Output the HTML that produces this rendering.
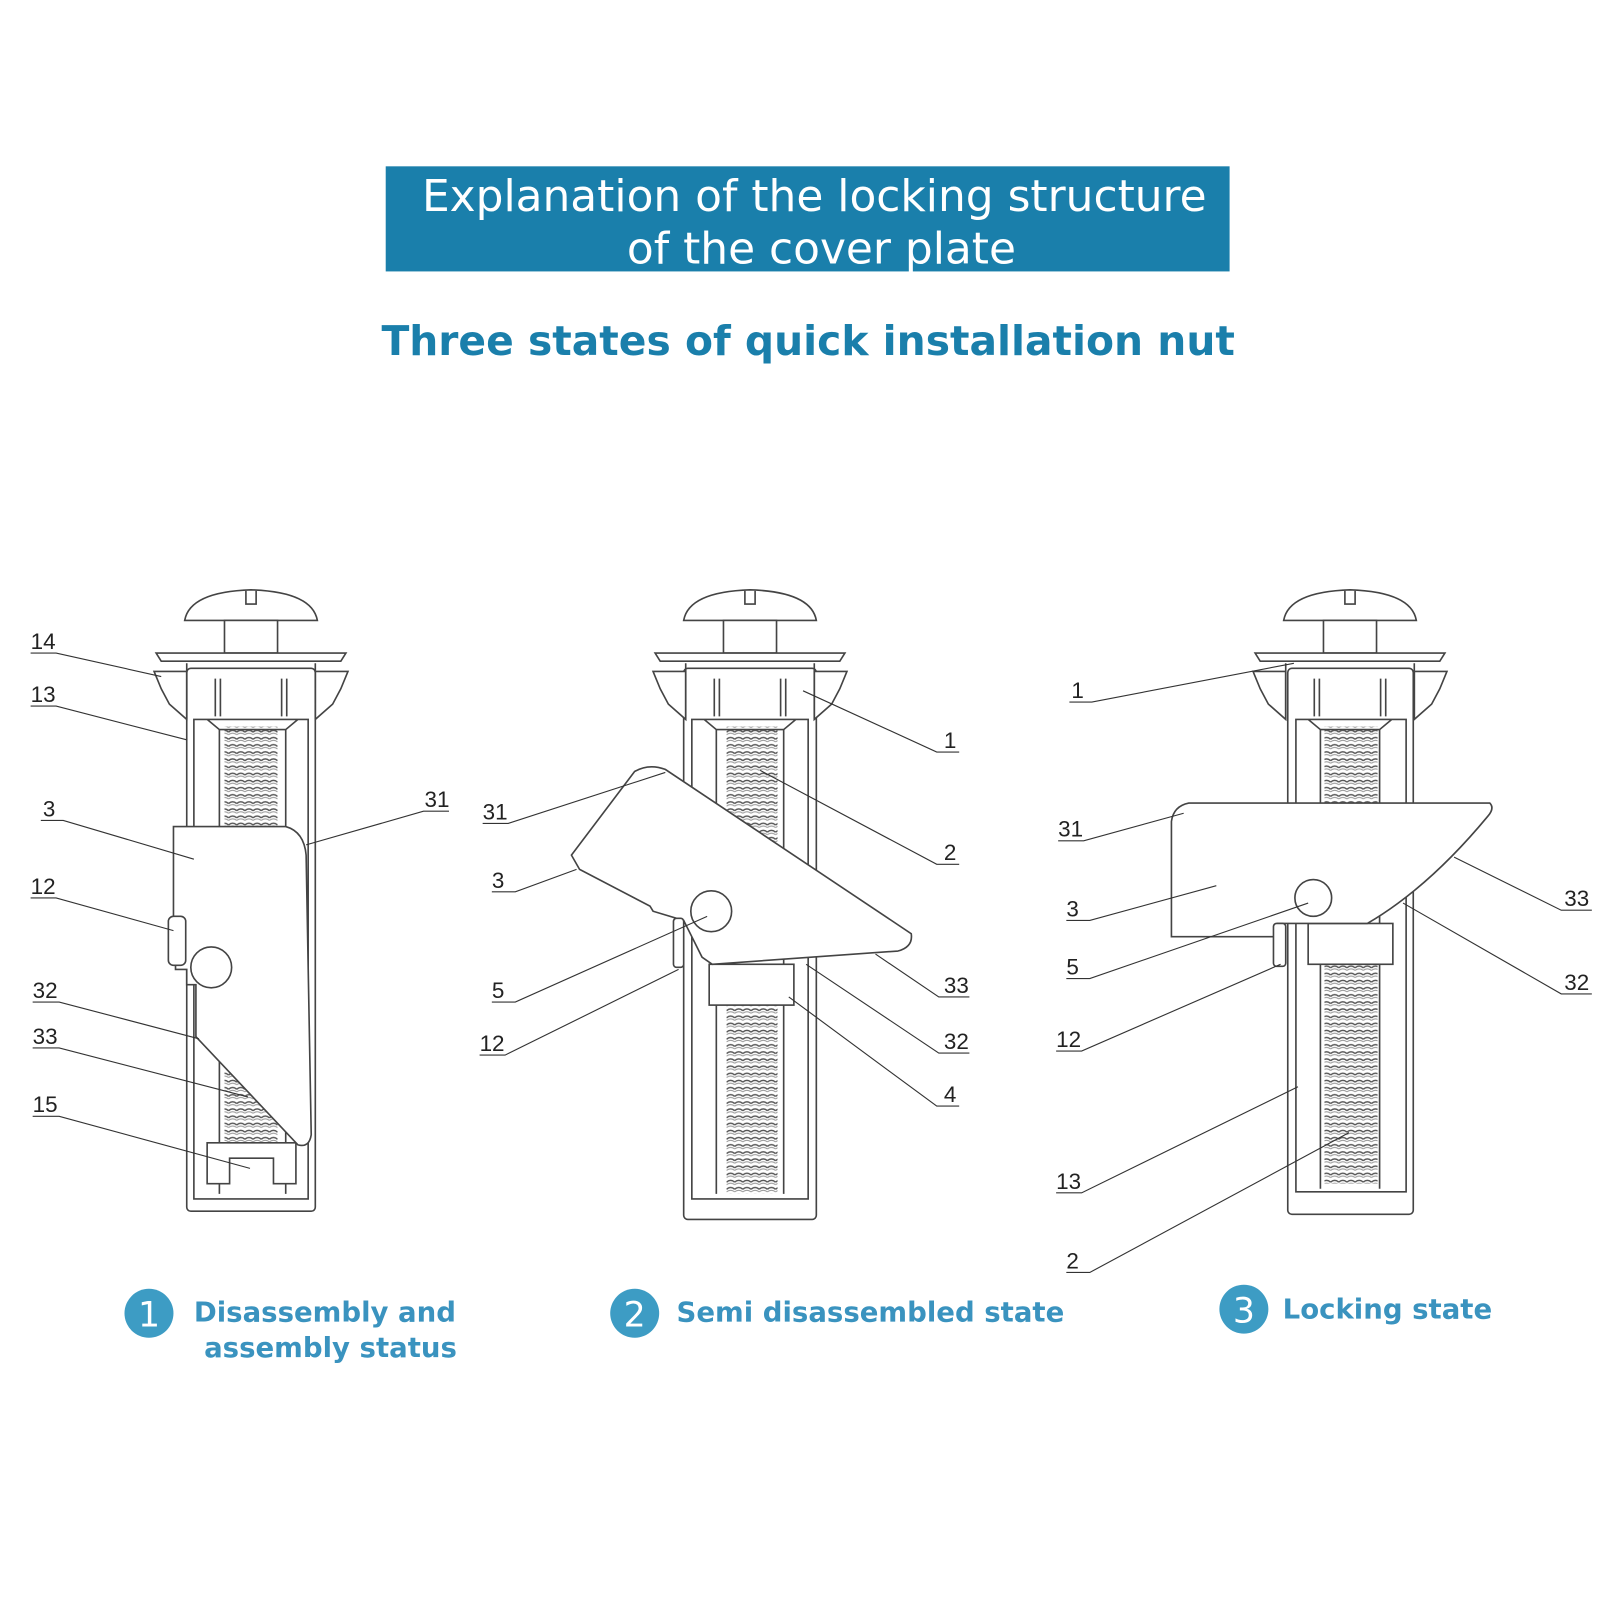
<!DOCTYPE html>
<html><head><meta charset="utf-8"><style>
html,body{margin:0;padding:0;background:#fff;}
svg{display:block}
.l{fill:none;stroke:#444;stroke-width:1.6}
.f{fill:#fff;stroke:#444;stroke-width:1.6}
.ld{fill:none;stroke:#333;stroke-width:1.1}
.t{font-family:"Liberation Sans",sans-serif;font-size:22px;fill:#222}
.cap{font-family:"DejaVu Sans","Liberation Sans",sans-serif;font-weight:bold;font-size:27px;fill:#3a93bf}
</style></head><body>
<svg width="1600" height="1600" viewBox="0 0 1568 1568" xmlns="http://www.w3.org/2000/svg">
<defs>
<pattern id="th" width="8" height="7" patternUnits="userSpaceOnUse">
<path d="M0 3.5 Q4 0 8 3.5" fill="none" stroke="#555" stroke-width="1.4"/>
<path d="M0 6 Q4 3 8 6" fill="none" stroke="#999" stroke-width="1"/>
</pattern>
<g id="top">
<path class="f" d="M-65 28 Q-60 0 0 -2 Q60 0 65 28 Z"/>
<path class="l" d="M-5 -1 V12 H5 V-1"/>
<rect class="f" x="-26" y="28" width="52" height="32"/>
<path class="f" d="M-93 60 H93 L88 68 H-88 Z"/>
<path class="f" d="M-95 78 H-63 V125 L-80 110 L-88 95 Z"/>
<path class="f" d="M95 78 H63 V125 L80 110 L88 95 Z"/>
<path class="l" d="M-63 70 V125 M63 70 V125 M-35 85 V122 M-30 85 V122 M30 85 V122 M35 85 V122"/>
</g>
</defs>

<rect x="378" y="163" width="827" height="103" fill="#1a7fab"/>
<text x="798" y="207" text-anchor="middle" font-family="DejaVu Sans,Liberation Sans,sans-serif" font-size="43" fill="#fff">Explanation of the locking structure</text>
<text x="805" y="258" text-anchor="middle" font-family="DejaVu Sans,Liberation Sans,sans-serif" font-size="43" fill="#fff">of the cover plate</text>
<text x="792" y="348" text-anchor="middle" font-family="DejaVu Sans,Liberation Sans,sans-serif" font-weight="bold" font-size="40" fill="#1a7fab">Three states of quick installation nut</text>

<!-- Column 1 -->
<g>
<rect class="f" x="183" y="655" width="126" height="532" rx="4"/>
<use href="#top" x="246" y="580"/>
<path class="l" d="M190 705 V1175 H302 V705 Z M203 705 L215 715 H280 L292 705 M215 715 V1170 M280 715 V1170"/>
<rect x="220" y="712" width="52" height="98" fill="url(#th)"/>
<rect x="220" y="1050" width="52" height="70" fill="url(#th)"/>
<path class="f" d="M203 1120 H290 V1160 H268 V1135 H225 V1160 H203 Z"/>
<path class="f" d="M170 810 H280 Q298 815 300 838 L305 1112 Q303 1125 292 1122 L192 1016 V965 H183 V950 H172 V905 H170 Z"/>
<rect class="f" x="165" y="898" width="17" height="48" rx="5"/>
<circle class="f" cx="207" cy="948" r="20"/>
</g>

<!-- Column 2 -->
<g>
<rect class="f" x="670" y="655" width="130" height="540" rx="4"/>
<use href="#top" x="735" y="580"/>
<path class="l" d="M678 705 V1175 H792 V705 Z M690 705 L702 715 H768 L780 705 M702 715 V1170 M768 715 V1170"/>
<rect x="712" y="712" width="50" height="120" fill="url(#th)"/>
<rect x="712" y="985" width="50" height="185" fill="url(#th)"/>
<rect class="f" x="695" y="945" width="83" height="40"/>
<path class="f" d="M560 838 L622 756 Q636 748 652 754 L893 915 Q895 928 880 932 L698 945 L688 938 L670 902 L640 893 L637 888 L568 852 Z"/>
<rect class="f" x="660" y="900" width="10" height="48" rx="3"/>
<circle class="f" cx="697" cy="893" r="20"/>
</g>

<!-- Column 3 -->
<g>
<rect class="f" x="1262" y="655" width="123" height="535" rx="4"/>
<use href="#top" x="1323" y="580"/>
<path class="l" d="M1270 705 V1168 H1378 V705 Z M1282 705 L1294 715 H1352 L1364 705 M1294 715 V1165 M1352 715 V1165"/>
<rect x="1298" y="712" width="52" height="75" fill="url(#th)"/>
<rect x="1298" y="945" width="52" height="215" fill="url(#th)"/>
<rect class="f" x="1282" y="905" width="83" height="40"/>
<path class="f" d="M1148 805 Q1150 790 1165 787 H1460 Q1465 792 1458 800 Q1400 870 1340 905 H1252 V918 H1148 Z"/>
<rect class="f" x="1248" y="905" width="12" height="42" rx="3"/>
<circle class="f" cx="1287" cy="880" r="18"/>
</g>

<!-- Labels -->
<g class="ld">
<path d="M30 640 H55 L158 663"/><path d="M30 692 H55 L183 725"/><path d="M40 804 H62 L190 842"/>
<path d="M30 880 H55 L170 912"/><path d="M32 982 H58 L195 1018"/><path d="M32 1027 H58 L243 1075"/>
<path d="M32 1094 H58 L245 1145"/><path d="M440 795 H415 L300 828"/>
<path d="M473 807 H498 L652 757"/><path d="M482 874 H505 L565 852"/><path d="M482 982 H505 L693 898"/>
<path d="M470 1034 H495 L665 950"/><path d="M940 737 H918 L787 677"/><path d="M940 847 H918 L745 755"/>
<path d="M950 977 H920 L858 935"/><path d="M950 1032 H920 L790 945"/><path d="M940 1084 H918 L773 977"/>
<path d="M1048 688 H1070 L1268 650"/><path d="M1037 824 H1062 L1160 797"/><path d="M1045 902 H1068 L1192 868"/>
<path d="M1045 959 H1068 L1282 885"/><path d="M1035 1030 H1060 L1255 945"/><path d="M1035 1169 H1060 L1272 1065"/>
<path d="M1045 1247 H1068 L1322 1110"/><path d="M1560 892 H1530 L1425 840"/><path d="M1560 974 H1530 L1375 885"/>
</g>
<g class="t">
<text x="30" y="636">14</text><text x="30" y="688">13</text><text x="42" y="800">3</text><text x="30" y="876">12</text>
<text x="32" y="978">32</text><text x="32" y="1023">33</text><text x="32" y="1090">15</text><text x="416" y="791">31</text>
<text x="473" y="803">31</text><text x="482" y="870">3</text><text x="482" y="978">5</text><text x="470" y="1030">12</text>
<text x="925" y="733">1</text><text x="925" y="843">2</text><text x="925" y="973">33</text><text x="925" y="1028">32</text><text x="925" y="1080">4</text>
<text x="1050" y="684">1</text><text x="1037" y="820">31</text><text x="1045" y="898">3</text><text x="1045" y="955">5</text>
<text x="1035" y="1026">12</text><text x="1035" y="1165">13</text><text x="1045" y="1243">2</text>
<text x="1533" y="888">33</text><text x="1533" y="970">32</text>
</g>

<!-- Captions -->
<circle cx="146" cy="1287" r="24" fill="#3d9cc4"/><text x="146" y="1300" text-anchor="middle" font-family="DejaVu Sans,sans-serif" font-size="34" fill="#fff">1</text>
<text class="cap" x="190" y="1295">Disassembly and</text><text class="cap" x="200" y="1330">assembly status</text>
<circle cx="622" cy="1287" r="24" fill="#3d9cc4"/><text x="622" y="1300" text-anchor="middle" font-family="DejaVu Sans,sans-serif" font-size="34" fill="#fff">2</text>
<text class="cap" x="663" y="1295">Semi disassembled state</text>
<circle cx="1219" cy="1283" r="24" fill="#3d9cc4"/><text x="1219" y="1296" text-anchor="middle" font-family="DejaVu Sans,sans-serif" font-size="34" fill="#fff">3</text>
<text class="cap" x="1257" y="1292">Locking state</text>
</svg>
</body></html>
